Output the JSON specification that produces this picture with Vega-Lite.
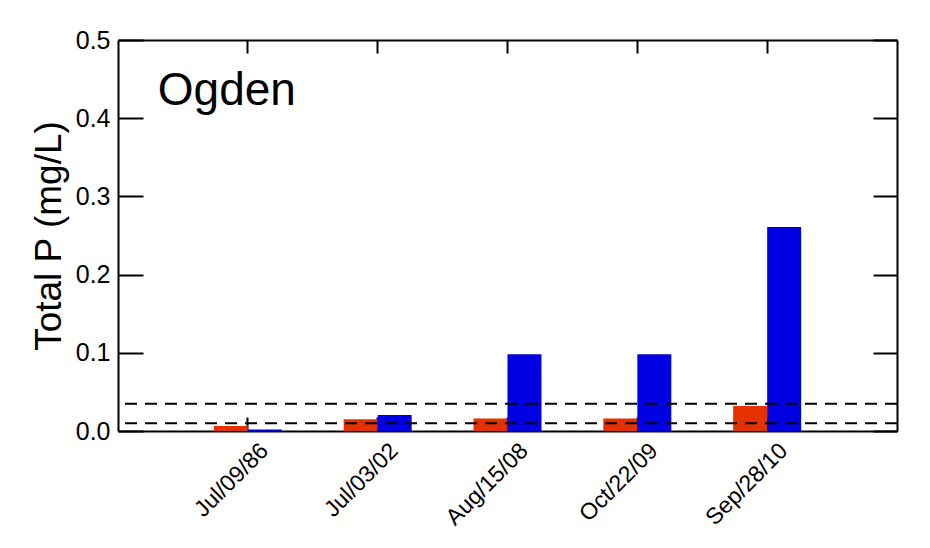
{
  "$schema": "https://vega.github.io/schema/vega-lite/v6.json",
  "autosize": {"type": "none"},
  "padding": {"left": 118, "top": 40, "right": 33, "bottom": 117},
  "width": 779,
  "height": 391,
  "background": "white",
  "config": {
    "view": {"stroke": null},
    "font": "Liberation Sans",
    "axis": {"grid": false, "domainColor": "black", "domainWidth": 2, "tickColor": "black", "tickWidth": 2, "labelColor": "black", "titleColor": "black", "labelFont": "Liberation Sans", "titleFont": "Liberation Sans", "titleFontWeight": "normal"}
  },
  "data": {
    "values": [
      {"date": "Jul/09/86", "series": "A", "tp": 0.0065},
      {"date": "Jul/09/86", "series": "B", "tp": 0.002},
      {"date": "Jul/03/02", "series": "A", "tp": 0.015},
      {"date": "Jul/03/02", "series": "B", "tp": 0.0205},
      {"date": "Aug/15/08", "series": "A", "tp": 0.016},
      {"date": "Aug/15/08", "series": "B", "tp": 0.098},
      {"date": "Oct/22/09", "series": "A", "tp": 0.016},
      {"date": "Oct/22/09", "series": "B", "tp": 0.098},
      {"date": "Sep/28/10", "series": "A", "tp": 0.032},
      {"date": "Sep/28/10", "series": "B", "tp": 0.261}
    ]
  },
  "layer": [
    {
      "mark": {"type": "bar"},
      "encoding": {
        "x": {"field": "date", "type": "nominal", "sort": null,
          "scale": {"type": "band", "paddingInner": 0, "paddingOuter": 0.5},
          "axis": {"orient": "bottom", "title": null, "labelAngle": -45, "labelFontSize": 23, "tickSize": -14, "labelPadding": 22, "labelOffset": 9, "domain": true}},
        "xOffset": {"field": "series", "type": "nominal", "scale": {"paddingInner": 0, "paddingOuter": 0.91}},
        "y": {"field": "tp", "type": "quantitative",
          "scale": {"domain": [0, 0.5], "nice": false, "zero": true},
          "axis": {"orient": "left", "title": "Total P (mg/L)", "titleFontSize": 37, "titlePadding": 7, "values": [0, 0.1, 0.2, 0.3, 0.4, 0.5], "format": ".1f", "labelFontSize": 25, "tickSize": -25, "labelPadding": 33}},
        "color": {"field": "series", "type": "nominal", "scale": {"domain": ["A", "B"], "range": ["#e33200", "#0000e2"]}, "legend": null}
      }
    },
    {
      "data": {"values": [{"limit": 0.035}, {"limit": 0.01}]},
      "mark": {"type": "rule", "color": "black", "strokeWidth": 2, "strokeDash": [12, 8]},
      "encoding": {
        "y": {"field": "limit", "type": "quantitative",
          "axis": {"orient": "right", "title": null, "labels": false, "values": [0, 0.1, 0.2, 0.3, 0.4, 0.5], "tickSize": -24}}
      }
    },
    {
      "data": {"values": [{"site": "Ogden", "date": "Jul/09/86", "yv": 0.417}]},
      "mark": {"type": "text", "align": "left", "baseline": "alphabetic", "fontSize": 46, "dx": -90, "color": "black", "font": "Liberation Sans"},
      "encoding": {
        "text": {"field": "site"},
        "x": {"field": "date", "type": "nominal", "sort": null,
          "axis": {"orient": "top", "title": null, "labels": false, "tickSize": -13}},
        "y": {"field": "yv", "type": "quantitative", "axis": null}
      }
    }
  ],
  "resolve": {"axis": {"x": "independent", "y": "independent"}}
}
